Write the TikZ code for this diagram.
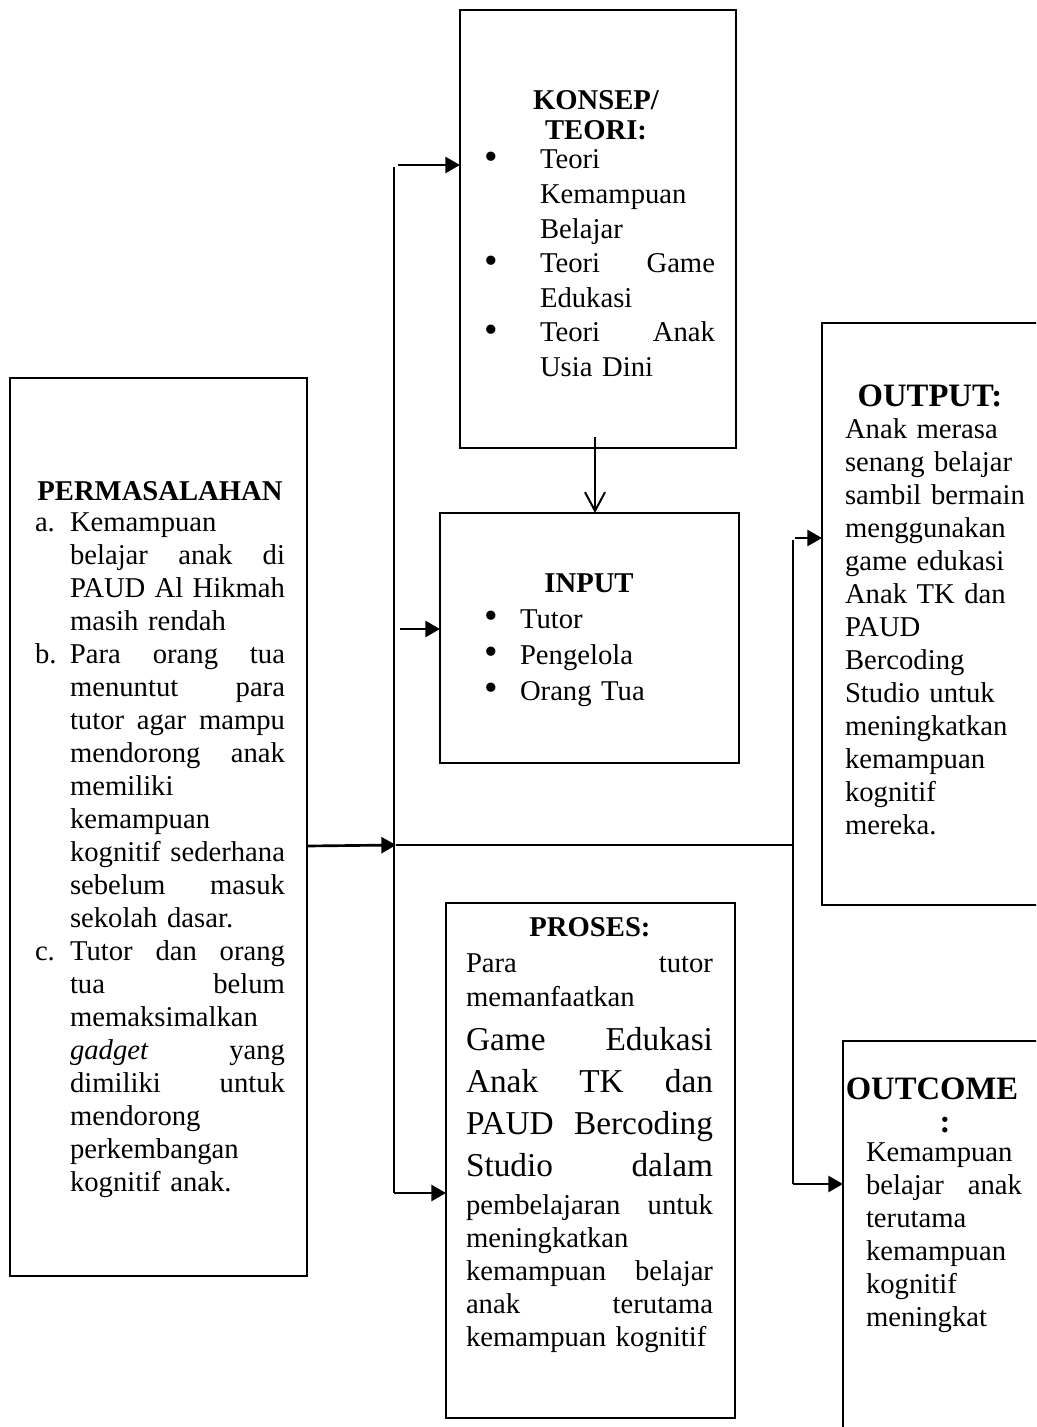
\documentclass[tikz,border=0pt]{standalone}
\usepackage{fontspec}
\setmainfont{Liberation Serif}
\usetikzlibrary{arrows.meta,fit}
\newcommand\nfs{\fontsize{21.5}{24.75}\selectfont}
\newcommand\lfs{\fontsize{25}{31.5}\selectfont}
\newcommand\lab[2]{\leavevmode\llap{\makebox[#1][l]{#2}}}
\newcommand\bul{{\fontsize{29}{29}\selectfont\raisebox{-0.5pt}{•}}}
\begin{document}
\begin{tikzpicture}[x=0.75pt,y=-0.75pt,
  box/.style={draw,line width=2pt,inner sep=0pt,outer sep=0pt},
  txt/.style={anchor=base west,inner sep=0pt,outer sep=0pt,align=left,font=\nfs},
  head/.style={anchor=base,inner sep=0pt,outer sep=0pt,font=\nfs\bfseries},
  bighead/.style={head,font=\fontsize{24.5}{28}\selectfont\bfseries},
  trunk/.style={line width=0.9pt},
  arr/.style={line width=2pt,-{Triangle[length=11pt,width=12pt]}},
  openarr/.style={line width=1.5pt,-{Straight Barb[length=14pt,width=15pt,line width=1.5pt]}}]
\useasboundingbox (0,0) rectangle (1036,1427);
\fill[white] (0,0) rectangle (1036,1427);
\clip (0,0) rectangle (1036,1427);

% boxes
\node[box,fit={(10,378) (307,1276)}] (perm) {};
\node[box,fit={(460,10) (736,448)}] (konsep) {};
\node[box,fit={(440,513) (739,763)}] (input) {};
\node[box,fit={(446,903) (735,1418)}] (proses) {};
\node[box,fit={(822,323) (1060,905)}] (output) {};
\node[box,fit={(843,1041) (1060,1460)}] (outcome) {};

% PERMASALAHAN
\node[head] (hperm) at (160,500) {PERMASALAHAN};
\node[txt,text width=161.25pt] (tperm) at (70,531) {%
\lab{26.25pt}{a.}Kemampuan\\
belajar\hfill anak\hfill di\\
PAUD\hfill Al\hfill Hikmah\\
masih rendah\\
\lab{26.25pt}{b.}Para\hfill orang\hfill tua\\
menuntut\hfill para\\
tutor\hfill agar\hfill mampu\\
mendorong\hfill anak\\
memiliki\\
kemampuan\\
kognitif\hfill sederhana\\
sebelum\hfill masuk\\
sekolah dasar.\\
\lab{26.25pt}{c.}Tutor\hfill dan\hfill orang\\
tua\hfill belum\\
memaksimalkan\\
\textit{gadget}\hfill yang\\
dimiliki\hfill untuk\\
mendorong\\
perkembangan\\
kognitif anak.};

% KONSEP
\node[head] (hkon1) at (596,110) {KONSEP/};
\node[head] (hkon2) at (596,140) {TEORI:};
\node[txt,text width=131.25pt,font=\fontsize{21.5}{25.9}\selectfont] (tkon) at (540,169) {%
\lab{42pt}{\bul}Teori\\
Kemampuan\\
Belajar\\
\lab{42pt}{\bul}Teori\hfill Game\\
Edukasi\\
\lab{42pt}{\bul}Teori\hfill Anak\\
Usia Dini};

% INPUT
\node[head] (hin) at (589,592) {INPUT};
\node[txt,text width=150pt,font=\fontsize{21.5}{27}\selectfont] (tin) at (520,628) {%
\lab{27pt}{\bul}Tutor\\
\lab{27pt}{\bul}Pengelola\\
\lab{27pt}{\bul}Orang Tua};

% PROSES
\node[head] (hpro) at (590,936) {PROSES:};
\node[txt,text width=185.25pt,font=\fontsize{21.5}{25.5}\selectfont] (tpro1) at (466,972) {%
Para\hfill tutor\\
memanfaatkan};
\node[txt,text width=185.25pt,font=\lfs] (tpro2) at (466,1050) {%
Game\hfill Edukasi\\
Anak\hfill TK\hfill dan\\
PAUD\hfill Bercoding\\
Studio\hfill dalam};
\node[txt,text width=185.25pt] (tpro3) at (466,1214) {%
pembelajaran\hfill untuk\\
meningkatkan\\
kemampuan\hfill belajar\\
anak\hfill terutama\\
kemampuan kognitif};

% OUTPUT
\node[bighead] (hout) at (930,406) {OUTPUT:};
\node[txt,text width=142.5pt] (tout) at (845,438) {%
Anak merasa\\
senang belajar\\
sambil bermain\\
menggunakan\\
game edukasi\\
Anak TK dan\\
PAUD\\
Bercoding\\
Studio untuk\\
meningkatkan\\
kemampuan\\
kognitif\\
mereka.};

% OUTCOME
\node[bighead] (hoc1) at (932,1099) {OUTCOME};
\node[bighead] (hoc2) at (945,1132) {:};
\node[txt,text width=117pt] (toc) at (866,1161) {%
Kemampuan\\
belajar\hfill anak\\
terutama\\
kemampuan\\
kognitif\\
meningkat};

% connectors
\coordinate (t1) at (394,167);
\coordinate (t2) at (394,1193);
\coordinate (j1) at (396,845);
\coordinate (r1) at (793,540);
\coordinate (r2) at (793,1184);
\coordinate (k1) at (595,437);
\coordinate (ak) at (398,165);
\coordinate (ai) at (400,629);
\coordinate (ap) at (307,846);
\coordinate (ao) at (795,538);

\draw[trunk] (t1) -- (t2);
\draw[trunk] (j1) -- (j1 -| r1);
\draw[trunk] (r1) -- (r2);

\draw[arr] (ak) -- (ak -| konsep.west);
\draw[arr] (ai) -- (ai -| input.west);
\draw[arr] (t2) -- (t2 -| proses.west);
\draw[arr] (ap) -- (j1);
\draw[arr] (ao) -- (ao -| output.west);
\draw[arr] (r2) -- (r2 -| outcome.west);
\draw[openarr] (k1) -- (k1 |- input.north);
\end{tikzpicture}
\end{document}
